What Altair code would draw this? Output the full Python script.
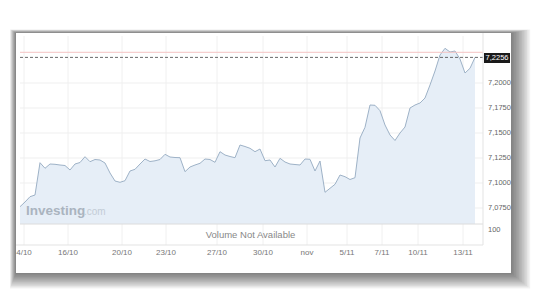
import altair as alt
import pandas as pd

# ---- data ----
prices = [
    7.0763, 7.0810, 7.0863, 7.0880, 7.1203, 7.1147, 7.1190, 7.1187, 7.1180, 7.1175,
    7.1130, 7.1190, 7.1205, 7.1263, 7.1213, 7.1235, 7.1230, 7.1200, 7.1100, 7.1020,
    7.1007, 7.1023, 7.1120, 7.1137, 7.1190, 7.1240, 7.1215, 7.1222, 7.1235, 7.1287,
    7.1260, 7.1255, 7.1253, 7.1113, 7.1160, 7.1180, 7.1197, 7.1240, 7.1235, 7.1207,
    7.1313, 7.1280, 7.1265, 7.1253, 7.1380, 7.1365, 7.1347, 7.1313, 7.1340, 7.1223,
    7.1230, 7.1160, 7.1247, 7.1210, 7.1190, 7.1185, 7.1180, 7.1240, 7.1237, 7.1120,
    7.1220, 7.0907, 7.0947, 7.0987, 7.1080, 7.1063, 7.1035, 7.1053, 7.1450, 7.1557,
    7.1780, 7.1777, 7.1723, 7.1580, 7.1480, 7.1425, 7.1500, 7.1560, 7.1750, 7.1780,
    7.1800, 7.1850, 7.1980, 7.2120, 7.2280, 7.2347, 7.2310, 7.2320, 7.2240, 7.2100,
    7.2147, 7.2256,
]
x_labels = ["4/10", "16/10", "20/10", "23/10", "27/10", "30/10", "nov", "5/11", "7/11", "10/11", "13/11"]
x_label_pos = [0.8, 9.6, 20.4, 29.2, 39.4, 48.6, 57.4, 65.4, 72.4, 79.6, 88.6]
y_ticks = [7.075, 7.100, 7.125, 7.150, 7.175, 7.200]
last_price = 7.2256
high_line = 7.2307
y_min, y_max = 7.059, 7.247
x_max = 92.6

df = pd.DataFrame({"i": list(range(len(prices))), "price": prices})
lab = pd.DataFrame({"pos": x_label_pos, "label": x_labels})
yt = pd.DataFrame({"v": y_ticks})
one = pd.DataFrame({"a": [0]})

FONT = "Liberation Sans"
W, H = 463, 188

xs = alt.Scale(domain=[0, x_max], nice=False, zero=False)
ys = alt.Scale(domain=[y_min, y_max], nice=False, zero=False)

layers = []

# card shadow (decoration), stronger towards right/bottom
for k in range(1, 13):
    layers.append(
        alt.Chart(one).mark_rect(color="#000000", opacity=0.05).encode(
            x=alt.value(-4 - k * 0.5), x2=alt.value(491 + k * 1.6),
            y=alt.value(-3 - k * 0.3), y2=alt.value(237 + k * 1.3),
        )
    )
# white card
layers.append(
    alt.Chart(one).mark_rect(color="white").encode(
        x=alt.value(-4), x2=alt.value(491), y=alt.value(-3), y2=alt.value(237)
    )
)

# vertical grid lines in main & volume panel
layers.append(
    alt.Chart(lab).mark_rule(color="#f0f0f0", strokeWidth=1).encode(
        x=alt.X("pos:Q", scale=xs, axis=None), y=alt.value(0), y2=alt.value(209)
    )
)
# horizontal grid lines
layers.append(
    alt.Chart(yt).mark_rule(color="#efefef", strokeWidth=1).encode(
        y=alt.Y("v:Q", scale=ys, axis=None), x=alt.value(0), x2=alt.value(W)
    )
)

# area + line
layers.append(
    alt.Chart(df).mark_area(
        color="#e4edf6", opacity=0.93,
        line={"color": "#9eb2c7", "strokeWidth": 1},
    ).encode(
        x=alt.X("i:Q", scale=xs, axis=None),
        y=alt.Y("price:Q", scale=ys, axis=None),
        y2=alt.datum(y_min),
    )
)

# y labels (right side)
layers.append(
    alt.Chart(yt).transform_calculate(
        t="replace(format(datum.v, '.4f'), '.', ',')"
    ).mark_text(
        font=FONT, fontSize=7.5, color="#666666", align="left", baseline="middle"
    ).encode(y=alt.Y("v:Q", scale=ys, axis=None), x=alt.value(W + 5), text="t:N")
)

# watermark
layers.append(
    alt.Chart(one).mark_text(
        text="Investing", font=FONT, fontWeight="bold", fontSize=13.5,
        color="#aab4bf", align="left", baseline="alphabetic",
    ).encode(x=alt.value(6), y=alt.value(179))
)
layers.append(
    alt.Chart(one).mark_text(
        text=".com", font=FONT, fontSize=10, color="#c3ccd6",
        align="left", baseline="alphabetic",
    ).encode(x=alt.value(64), y=alt.value(179))
)

# high line and last-price dashed line
layers.append(
    alt.Chart(pd.DataFrame({"v": [high_line]})).mark_rule(color="#f4c4c4", strokeWidth=1).encode(
        y=alt.Y("v:Q", scale=ys, axis=None), x=alt.value(0), x2=alt.value(W)
    )
)
layers.append(
    alt.Chart(pd.DataFrame({"v": [last_price]})).mark_rule(
        color="#444444", strokeWidth=0.8, strokeDash=[3, 2]
    ).encode(y=alt.Y("v:Q", scale=ys, axis=None), x=alt.value(0), x2=alt.value(W + 2))
)

# panel borders
layers.append(
    alt.Chart(one).mark_rule(color="#dcdcdc").encode(
        x=alt.value(0), x2=alt.value(W), y=alt.value(H)
    )
)
layers.append(
    alt.Chart(one).mark_rule(color="#e3e3e3").encode(
        x=alt.value(-4), x2=alt.value(W), y=alt.value(209)
    )
)
layers.append(
    alt.Chart(one).mark_rule(color="#e3e3e3").encode(
        x=alt.value(W), y=alt.value(-3), y2=alt.value(209)
    )
)

# last price box
layers.append(
    alt.Chart(one).mark_rect(color="#1a1a1a").encode(
        x=alt.value(W + 1), x2=alt.value(490), y=alt.value(17), y2=alt.value(27)
    )
)
layers.append(
    alt.Chart(pd.DataFrame({"v": [last_price]})).transform_calculate(
        t="replace(format(datum.v, '.4f'), '.', ',')"
    ).mark_text(
        font=FONT, fontSize=7.5, color="white", align="center", baseline="middle"
    ).encode(text="t:N", x=alt.value(477), y=alt.value(22))
)

# volume panel texts
layers.append(
    alt.Chart(one).mark_text(
        text="Volume Not Available", font=FONT, fontSize=9.5, color="#888888",
        align="center", baseline="middle",
    ).encode(x=alt.value(230.5), y=alt.value(199))
)
layers.append(
    alt.Chart(one).mark_text(
        text="100", font=FONT, fontSize=7.5, color="#666666",
        align="left", baseline="middle",
    ).encode(x=alt.value(468), y=alt.value(194))
)

# x labels
layers.append(
    alt.Chart(lab).mark_text(
        font=FONT, fontSize=8, color="#777777", align="center", baseline="middle"
    ).encode(x=alt.X("pos:Q", scale=xs, axis=None), y=alt.value(217), text="label:N")
)

chart = alt.layer(*layers).properties(
    width=W, height=H,
    autosize=alt.AutoSizeParams(type="none"),
    padding={"left": 20, "top": 36, "right": 74, "bottom": 71},
    background="white",
).configure_view(stroke=None)

chart.save("out.html", embed_options={"renderer": "svg", "actions": False})
